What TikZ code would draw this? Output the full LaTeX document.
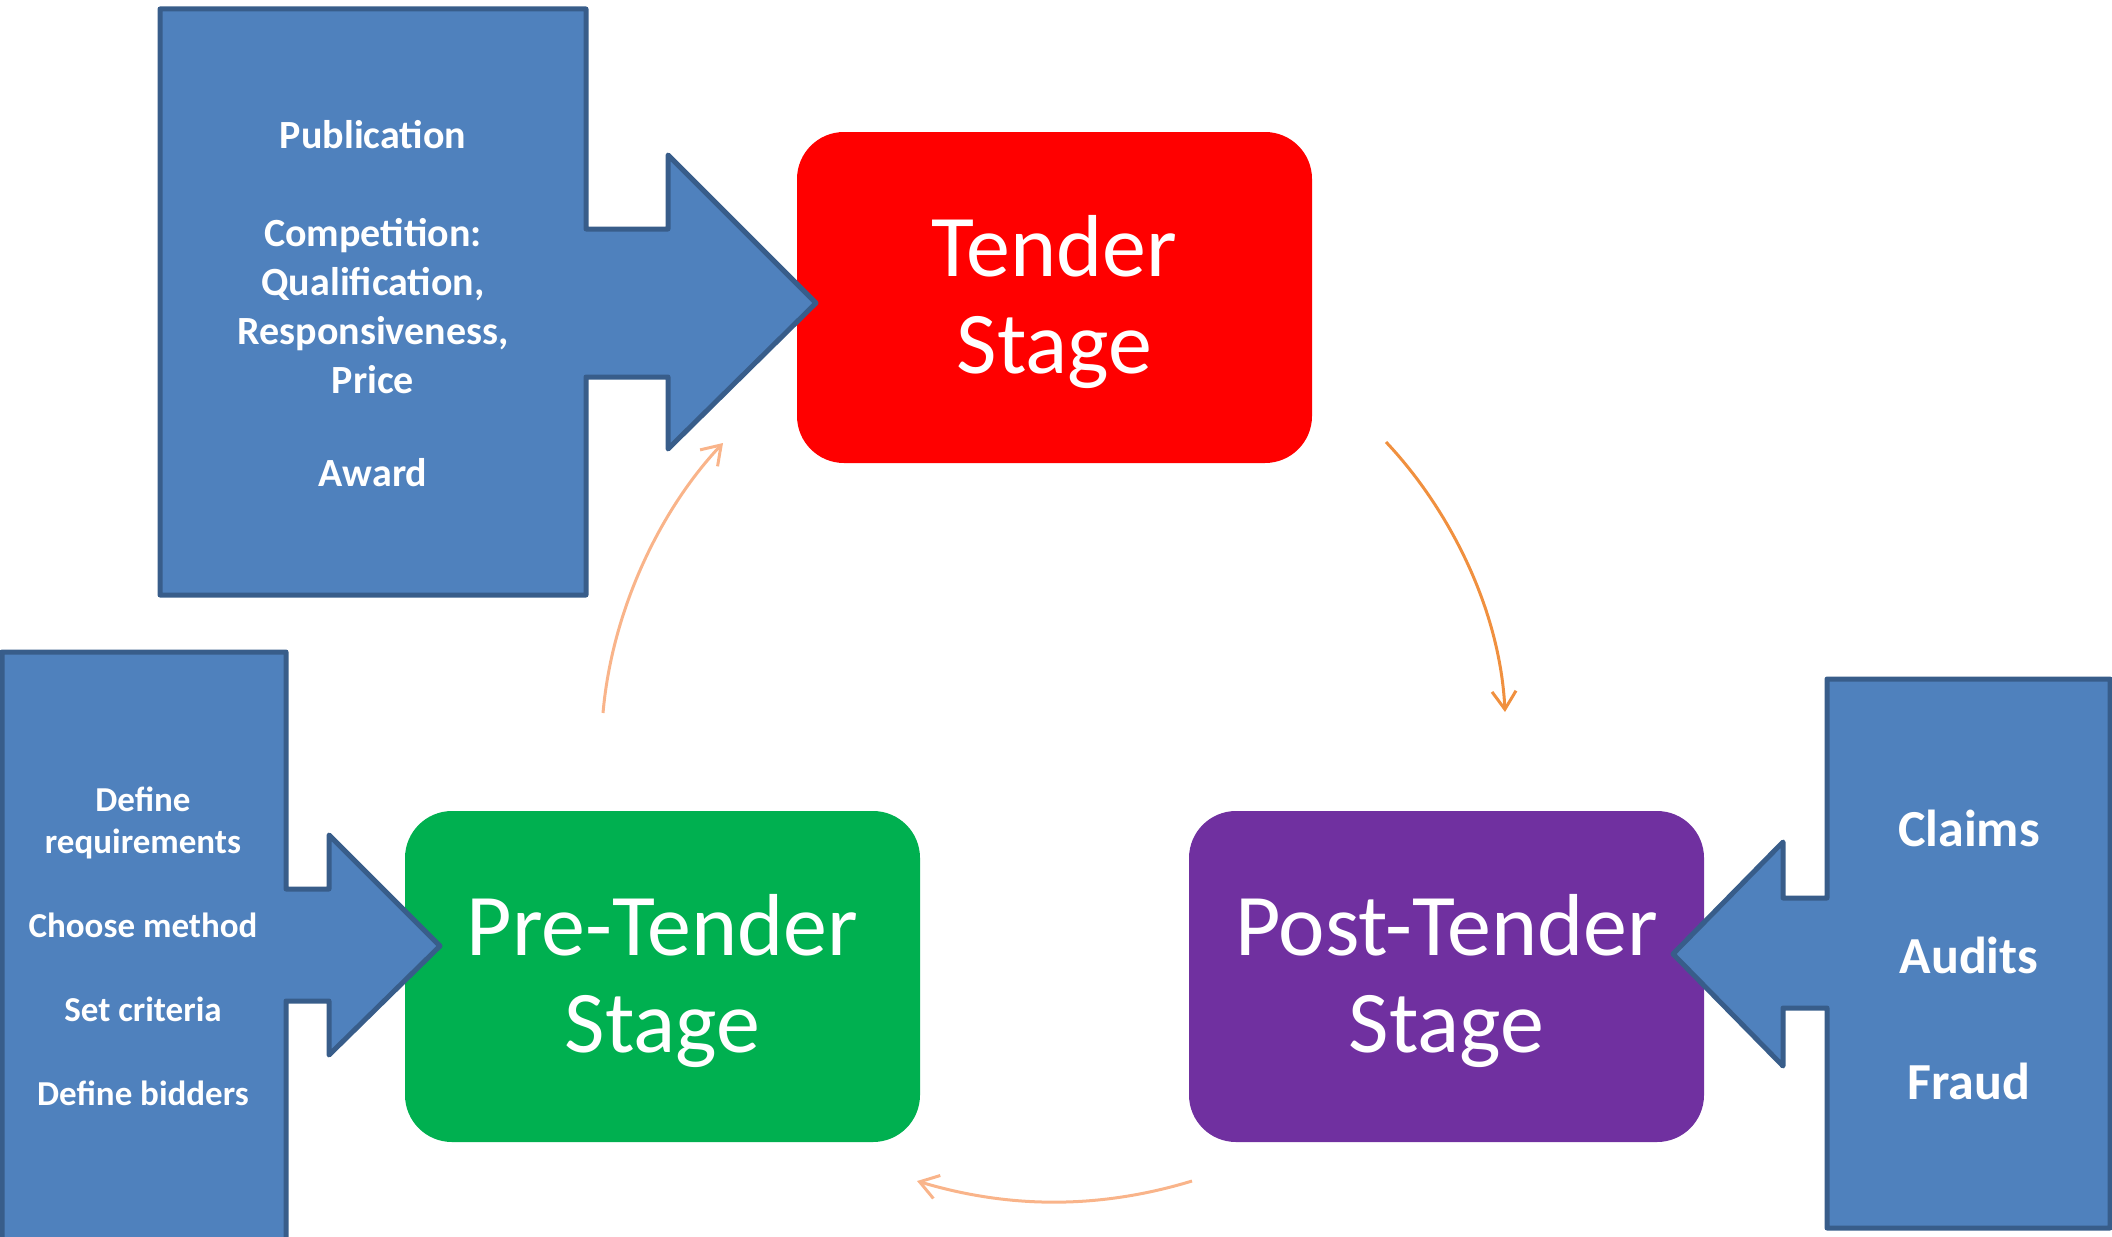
\documentclass[tikz,border=0pt]{standalone}
\usepackage{fontspec}
\setmainfont{Carlito}
\usetikzlibrary{arrows.meta}
\definecolor{cblue}{HTML}{4F81BD}
\definecolor{cborder}{HTML}{385D8A}
\definecolor{cred}{HTML}{FF0000}
\definecolor{cgreen}{HTML}{00B050}
\definecolor{cpurple}{HTML}{7030A0}
\definecolor{corange}{HTML}{F0903F}
\definecolor{cpeach}{HTML}{F9B48A}
\begin{document}
\begin{tikzpicture}[x=0.5pt,y=-0.5pt,
 stagebox/.style={rounded corners=23.5pt, minimum width=257.5pt, minimum height=165.5pt, inner sep=0pt},
 stagetext/.style={text=white, align=center, font=\fontsize{44pt}{48.5pt}\selectfont, inner sep=0pt},
 callout/.style={fill=cblue, draw=cborder, line width=2.5pt, line join=round},
 flow/.style={line width=1.5pt, -{Straight Barb[length=9pt,width=12pt]}},
 ctext/.style={text=white, align=center}
]
\useasboundingbox (0,0) rectangle (2112,1236);

% stage boxes
\node[stagebox, fill=cred] (tender) at (1054.5,297.5) {};
\node[stagebox, fill=cgreen] (pre) at (662.5,976.5) {};
\node[stagebox, fill=cpurple] (post) at (1446.5,976.5) {};
\node[stagetext] (tenderlabel) at ([yshift=-2.5pt]tender.center) {Tender\\Stage};
\node[stagetext] (prelabel) at ([yshift=-2pt]pre.center) {Pre-Tender\\Stage};
\node[stagetext] (postlabel) at ([yshift=-2pt]post.center) {Post-Tender\\Stage};

% callouts
\draw[callout] (160,9) -- (586,9) -- (586,229) -- (668,229) -- (668,155) -- (816,303) -- (668,449) -- (668,377) -- (586,377) -- (586,595) -- (160,595) -- cycle;
\draw[callout] (2,652) -- (286,652) -- (286,889) -- (329,889) -- (329,835) -- (440,946) -- (329,1055) -- (329,1001) -- (286,1001) -- (286,1250) -- (2,1250) -- cycle;
\draw[callout] (2110,679) -- (1827,679) -- (1827,898) -- (1783,898) -- (1783,842) -- (1673,954) -- (1783,1066) -- (1783,1008) -- (1827,1008) -- (1827,1228) -- (2110,1228) -- cycle;

% callout texts
\node[ctext, font=\bfseries\fontsize{20pt}{24.5pt}\selectfont] (tendertext) at (373,304)
 {Publication\\[24.5pt]Competition:\\Qualification,\\Responsiveness,\\Price\\[22pt]Award};
\node[ctext, font=\bfseries\fontsize{17.5pt}{21pt}\selectfont] (pretext) at (143,946)
 {Define\\requirements\\[21pt]Choose method\\[21pt]Set criteria\\[21pt]Define bidders};
\node[ctext, font=\bfseries\fontsize{26pt}{31.7pt}\selectfont] (posttext) at (1969,955)
 {Claims\\[31.7pt]Audits\\[31.7pt]Fraud};

% cycle arrows
\coordinate (t2s) at (1386,442); \coordinate (t2e) at (1505,712);
\draw[flow, draw=corange] (t2s) .. controls (1450,510) and (1500,610) .. (t2e);
\coordinate (p2s) at (1192,1181); \coordinate (p2e) at (917,1181);
\draw[flow, draw=cpeach] (p2s) .. controls (1100,1209) and (1010,1209) .. (p2e);
\coordinate (r2s) at (603,713); \coordinate (r2e) at (723,443);
\draw[flow, draw=cpeach] (r2s) .. controls (612,610) and (660,510) .. (r2e);
\end{tikzpicture}
\end{document}
